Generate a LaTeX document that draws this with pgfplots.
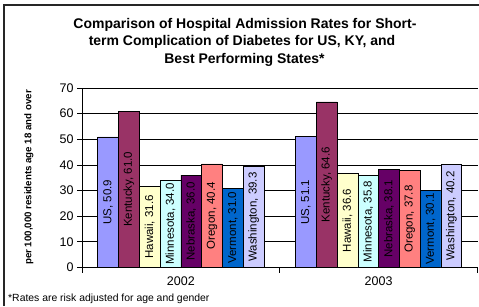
\documentclass[border=0pt]{standalone}
\usepackage{pgfplots}
\pgfplotsset{compat=1.18}
\usepackage{fontspec}
\setmainfont{Liberation Sans}
\definecolor{cUS}{HTML}{9999FF}
\definecolor{cKY}{HTML}{993366}
\definecolor{cHI}{HTML}{FFFFCC}
\definecolor{cMN}{HTML}{CCFFFF}
\definecolor{cNE}{HTML}{660066}
\definecolor{cOR}{HTML}{FF8080}
\definecolor{cVT}{HTML}{0066CC}
\definecolor{cWA}{HTML}{CCCCFF}
\newcommand{\vlab}[1]{#1, \pgfmathprintnumber[fixed,fixed zerofill,precision=1,assume math mode=true]{\pgfplotspointmeta}}
\begin{document}
\begin{tikzpicture}
\useasboundingbox (0,0) rectangle (479pt,306pt);
\draw[line width=1.4pt, black!85] (4pt,0) -- (4pt,301pt) -- (479pt,301pt);
\begin{axis}[
  at={(82pt,38.5pt)}, anchor=south west,
  scale only axis, width=395.5pt, height=179.5pt,
  xmin=-0.5, xmax=1.5, ymin=0, ymax=70,
  axis lines=left, axis line style={-, black, line width=0.8pt},
  ytick={0,10,...,70},
  ymajorgrids, grid style={black, line width=0.8pt},
  tick align=outside, major tick length=5pt,
  tick style={black, line width=0.8pt},
  xtick={-0.5,0.5,1.5}, xticklabels={},
  extra x ticks={0,1}, extra x tick labels={2002,2003},
  extra x tick style={major tick length=0pt},
  xticklabel style={yshift=-6pt},
  ticklabel style={font=\fontsize{12.5}{14}\selectfont},
  /pgf/number format/assume math mode=true,
  ybar, bar width=20.76pt,
  every axis plot/.append style={bar shift=0pt, draw=black, line width=0.7pt},
  visualization depends on={y \as \rawy},
  every node near coord/.append style={anchor=center, yshift={-\rawy*179.5/140}, rotate=90, font=\fontsize{11.5}{13}\selectfont, black},
]
\addplot[fill=cUS, nodes near coords={\vlab{US}}] coordinates {(-0.3675,50.9) (0.6325,51.1)};
\addplot[fill=cKY, nodes near coords={\vlab{Kentucky}}] coordinates {(-0.2625,61.0) (0.7375,64.6)};
\addplot[fill=cHI, nodes near coords={\vlab{Hawaii}}] coordinates {(-0.1575,31.6) (0.8425,36.6)};
\addplot[fill=cMN, nodes near coords={\vlab{Minnesota}}] coordinates {(-0.0525,34.0) (0.9475,35.8)};
\addplot[fill=cNE, nodes near coords={\vlab{Nebraska}}] coordinates {(0.0525,36.0) (1.0525,38.1)};
\addplot[fill=cOR, nodes near coords={\vlab{Oregon}}] coordinates {(0.1575,40.4) (1.1575,37.8)};
\addplot[fill=cVT, nodes near coords={\vlab{Vermont}}] coordinates {(0.2625,31.0) (1.2625,30.1)};
\addplot[fill=cWA, nodes near coords={\vlab{Washington}}] coordinates {(0.3675,39.3) (1.3675,40.2)};
\end{axis}
\node[rotate=90, font=\bfseries\fontsize{9.7}{11}\selectfont] at (29pt,128.5pt) {per 100,000 residents age 18 and over};
\node[anchor=base, font=\bfseries\fontsize{14}{17}\selectfont] at (245pt,277pt) {Comparison of Hospital Admission Rates for Short-};
\node[anchor=base, font=\bfseries\fontsize{14}{17}\selectfont] at (242pt,260pt) {term Complication of Diabetes for US, KY, and};
\node[anchor=base, font=\bfseries\fontsize{14}{17}\selectfont] at (244.5pt,243pt) {Best Performing States*};
\node[anchor=base west, font=\fontsize{10.4}{12}\selectfont, inner sep=0pt] at (8pt,5pt) {*Rates are risk adjusted for age and gender};
\end{tikzpicture}
\end{document}
